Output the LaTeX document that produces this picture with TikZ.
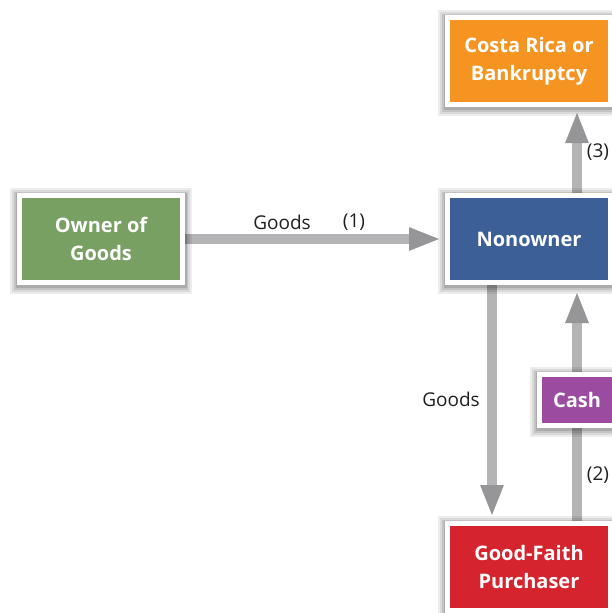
\documentclass[tikz,border=0pt]{standalone}
\usepackage{fontspec}
\setmainfont{Open Sans}
\usetikzlibrary{arrows.meta,backgrounds}

\definecolor{ownergreen}{RGB}{120,160,98}
\definecolor{nonblue}{RGB}{60,95,152}
\definecolor{costaorange}{RGB}{246,148,34}
\definecolor{cashpurple}{RGB}{156,76,160}
\definecolor{faithred}{RGB}{214,36,46}
\definecolor{shaftgray}{RGB}{180,180,182}
\definecolor{tipgray}{RGB}{150,150,152}
\definecolor{labelblack}{RGB}{35,31,32}

\begin{document}
\begin{tikzpicture}[x=1pt, y=-1pt,
    party/.style={draw=white, line width=5pt, inner sep=0pt, outer sep=2.5pt,
        minimum width=163pt, minimum height=87pt, align=center, text=white,
        font=\fontsize{20}{28}\selectfont\bfseries,
        preaction={draw=black, draw opacity=0.07, line width=19pt, transform canvas={yshift=-2pt}},
        preaction={draw=black, draw opacity=0.08, line width=15pt, transform canvas={yshift=-2pt}},
        preaction={draw=black, draw opacity=0.10, line width=11pt, transform canvas={yshift=-1.5pt}},
        preaction={draw=black, draw opacity=0.12, line width=8pt, transform canvas={yshift=-1pt}}},
    flow/.style={line width=10pt, shaftgray,
        -{Triangle[width=21pt, length=32pt, color=tipgray]}, shorten >=4pt},
    tag/.style={font=\fontsize{19}{23}\selectfont, text=labelblack}]

    \useasboundingbox (0,0) rectangle (611,613);

    % === Parti ===
    \node[party, fill=ownergreen, minimum width=163pt] (owner) at (101, 239) {Owner of\\Goods};
    \node[party, fill=nonblue] (nonowner) at (529, 239) {Nonowner};
    \node[party, fill=costaorange] (costa) at (529, 61) {Costa Rica or\\Bankruptcy};
    \node[party, fill=faithred] (faith) at (529, 567) {Good-Faith\\Purchaser};

    % Cash sul percorso (2)
    \node[party, fill=cashpurple, minimum width=75pt, minimum height=51pt] (cash) at (577, 400) {Cash};

    % === Frecce ===
    \begin{scope}[on background layer]
        \fill[white] (0,0) rectangle (611,613);
        \draw[flow] (owner.east) -- (nonowner.west);
        \draw[flow] (nonowner.north -| cash) -- (costa.south -| cash);
        \draw[flow] ([xshift=-37pt]nonowner.south) -- ([xshift=-37pt]faith.north);
        \draw[flow, shorten >=6pt] (faith.north -| cash) -- (nonowner.south -| cash);
    \end{scope}

    % === Etichette ===
    \node[tag] (goodsone) at (282, 222) {Goods};
    \node[tag] (stepone) at (354, 222) {(1)};
    \node[tag] (goodstwo) at (451, 399) {Goods};
    \node[tag] (steptwo) at (598, 475) {(2)};
    \node[tag] (stepthree) at (598, 152) {(3)};

\end{tikzpicture}
\end{document}
